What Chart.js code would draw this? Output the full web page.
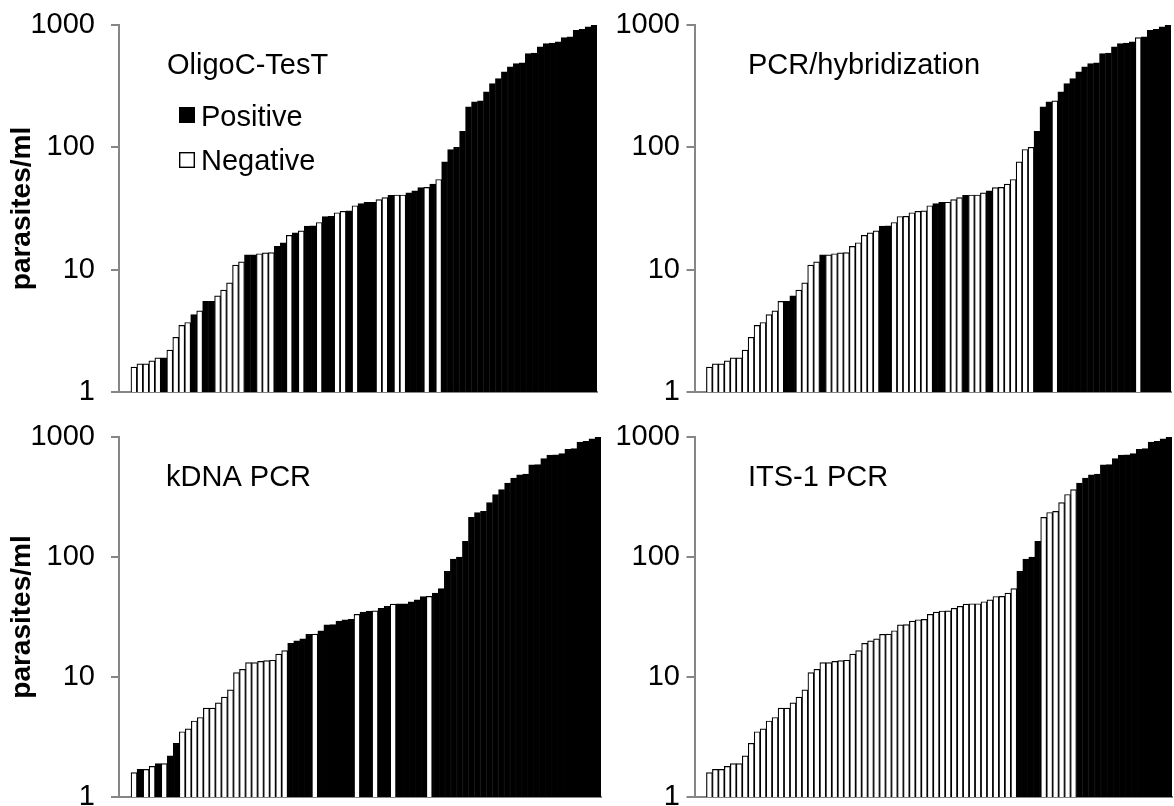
<!DOCTYPE html>
<html>
<head>
<meta charset="utf-8">
<script src="https://cdn.jsdelivr.net/npm/chart.js@4.4.1/dist/chart.umd.min.js"></script>
<style>
  html, body { margin: 0; padding: 0; background: #fff; overflow: hidden; }
  #wrap { position: relative; width: 1174px; height: 806px; overflow: hidden; }
  #wrap canvas { position: absolute; left: 0; top: 0; }
</style>
</head>
<body>
<div id="wrap">
  <canvas id="oligo" width="1174" height="840"></canvas>
  <canvas id="pcrh" width="1174" height="840"></canvas>
  <canvas id="kdna" width="1174" height="840"></canvas>
  <canvas id="its1" width="1174" height="840"></canvas>
</div>
<script>
// samples sorted by parasite load (first two below detection on the log axis)
const samples = [1, 2, 3, 4, 5, 6, 7, 8, 9, 10, 11, 12, 13, 14, 15, 16, 17, 18, 19, 20,
  21, 22, 23, 24, 25, 26, 27, 28, 29, 30, 31, 32, 33, 34, 35, 36, 37, 38, 39, 40,
  41, 42, 43, 44, 45, 46, 47, 48, 49, 50, 51, 52, 53, 54, 55, 56, 57, 58, 59, 60,
  61, 62, 63, 64, 65, 66, 67, 68, 69, 70, 71, 72, 73, 74, 75, 76, 77, 78, 79, 80];

const parasites = [null, null, 1.6, 1.7, 1.7, 1.8, 1.9, 1.9, 2.2, 2.8,
  3.5, 3.7, 4.3, 4.6, 5.5, 5.5, 6.1, 6.8, 7.8, 10.9,
  11.6, 13.2, 13.2, 13.5, 13.7, 13.8, 15.5, 16.6, 19.1, 20,
  20.8, 22.7, 22.8, 24.3, 27.2, 27.3, 29.2, 30, 30.2, 33.3,
  34.7, 35.5, 35.6, 37.4, 38.8, 40.5, 40.8, 40.8, 42.4, 44,
  46.9, 47, 50, 54.6, 76, 96, 100, 135, 214, 235,
  240, 284, 332, 365, 414, 454, 484, 490, 585, 590,
  662, 706, 710, 728, 790, 800, 906, 920, 965, 1000];

// 1 = positive, 0 = negative
const oligocTest = [0, 0, 0, 0, 0, 0, 0, 1, 0, 0,
  0, 0, 1, 0, 1, 1, 0, 0, 0, 0,
  0, 1, 1, 0, 0, 0, 1, 1, 0, 1,
  0, 1, 1, 0, 1, 1, 0, 0, 1, 0,
  1, 1, 1, 0, 0, 1, 0, 0, 1, 1,
  1, 0, 1, 0, 1, 1, 1, 1, 1, 1,
  1, 1, 1, 1, 1, 1, 1, 1, 1, 1,
  1, 1, 1, 1, 1, 1, 1, 1, 1, 1];

const pcrHybridization = [0, 0, 0, 0, 0, 0, 0, 0, 0, 0,
  0, 0, 0, 0, 0, 1, 1, 0, 0, 0,
  0, 1, 0, 0, 0, 0, 0, 0, 0, 0,
  0, 1, 1, 0, 0, 0, 0, 0, 0, 0,
  1, 1, 0, 0, 0, 1, 0, 0, 0, 1,
  0, 0, 0, 0, 0, 0, 0, 1, 1, 1,
  0, 1, 1, 1, 1, 1, 1, 1, 1, 1,
  1, 1, 1, 1, 0, 1, 1, 1, 1, 1];

const kdnaPcr = [0, 0, 0, 1, 0, 0, 1, 0, 1, 1,
  0, 0, 0, 0, 0, 0, 0, 0, 0, 0,
  0, 0, 0, 0, 0, 0, 0, 0, 1, 1,
  1, 1, 0, 1, 1, 1, 1, 1, 1, 0,
  1, 1, 0, 1, 1, 0, 1, 1, 1, 1,
  1, 0, 1, 1, 1, 1, 1, 1, 1, 1,
  1, 1, 1, 1, 1, 1, 1, 1, 1, 1,
  1, 1, 1, 1, 1, 1, 1, 1, 1, 1];

const its1Pcr = [0, 0, 0, 0, 0, 0, 0, 0, 0, 0,
  0, 0, 0, 0, 0, 0, 0, 0, 0, 0,
  0, 0, 0, 0, 0, 0, 0, 0, 0, 0,
  0, 0, 0, 0, 0, 0, 0, 0, 0, 0,
  0, 0, 0, 0, 0, 0, 0, 0, 0, 0,
  0, 0, 0, 0, 1, 1, 1, 1, 0, 0,
  0, 0, 0, 0, 1, 1, 1, 1, 1, 1,
  1, 1, 1, 1, 1, 1, 1, 1, 1, 1];

const yTicks = [1, 10, 100, 1000];
const legendLabels = ['Positive', 'Negative'];

const FONT = "'Liberation Sans', Arial, sans-serif";
const GREY = '#868686';
const H = 840;

const panelText = {
  id: 'panelText',
  afterDraw(chart, args, opts) {
    const ctx = chart.ctx;
    ctx.save();
    ctx.fillStyle = '#000';
    ctx.font = '29px ' + FONT;
    ctx.textBaseline = 'alphabetic';
    ctx.fillText(opts.title, opts.titleX, opts.titleY);
    if (opts.legend) {
      // filled / open markers, then the labels
      ctx.fillRect(179, 107, 16, 16);
      ctx.fillStyle = '#fff';
      ctx.fillRect(179, 152, 16, 16);
      ctx.strokeStyle = '#000';
      ctx.lineWidth = 1.4;
      ctx.strokeRect(179.7, 152.7, 14.6, 14.6);
      ctx.fillStyle = '#000';
      ctx.fillText(legendLabels[0], 201, 126);
      ctx.fillText(legendLabels[1], 201, 170);
    }
    ctx.restore();
  }
};

function makePanel(id, title, status, box) {
  new Chart(document.getElementById(id), {
    type: 'bar',
    data: {
      labels: samples,
      datasets: [{
        data: parasites,
        backgroundColor: status.map(s => s ? '#000' : '#fff'),
        borderColor: '#000',
        borderWidth: 1.2,
        borderSkipped: 'start',
        barPercentage: 1,
        categoryPercentage: 1
      }]
    },
    options: {
      responsive: false,
      animation: false,
      devicePixelRatio: 1,
      layout: { padding: { left: box.axisLeft, top: box.top, right: 1174 - box.right, bottom: H - box.bottom } },
      plugins: {
        legend: { display: false },
        tooltip: { enabled: false },
        panelText: { title: title, titleX: box.titleX, titleY: box.titleY, legend: box.legend }
      },
      scales: {
        x: {
          ticks: { display: false },
          grid: { display: false, drawTicks: false },
          border: { display: true, color: GREY, width: 2 }
        },
        y: {
          type: 'logarithmic',
          min: 1,
          max: 1000,
          afterBuildTicks: s => { s.ticks = yTicks.map(v => ({ value: v })); },
          afterFit: s => {
            s.width = box.left - box.axisLeft;
            // labels may overhang the plot edges, keep the plot where it is
            s.paddingTop = 0;
            s.paddingBottom = 0;
          },
          ticks: { color: '#000', font: { family: FONT, size: 29 }, padding: box.tickPad, callback: v => String(v) },
          grid: { drawOnChartArea: false, drawTicks: true, tickLength: 8, color: GREY, lineWidth: 2 },
          border: { display: true, color: GREY, width: 2 },
          title: {
            display: box.yTitle,
            text: 'parasites/ml',
            color: '#000',
            font: { family: FONT, size: 28, weight: 'bold' },
            padding: { top: 5, bottom: 0 }
          }
        }
      }
    },
    plugins: [panelText]
  });
}

makePanel('oligo', 'OligoC-TesT', oligocTest,
  { axisLeft: 0, left: 119, right: 597, top: 25, bottom: 392, tickPad: 16, titleX: 167, titleY: 74, legend: true, yTitle: true });
makePanel('pcrh', 'PCR/hybridization', pcrHybridization,
  { axisLeft: 600, left: 694.5, right: 1171, top: 25, bottom: 392, tickPad: 6.5, titleX: 748, titleY: 74, legend: false, yTitle: false });
makePanel('kdna', 'kDNA PCR', kdnaPcr,
  { axisLeft: 0, left: 119, right: 601, top: 437, bottom: 797, tickPad: 16, titleX: 166, titleY: 486, legend: false, yTitle: true });
makePanel('its1', 'ITS-1 PCR', its1Pcr,
  { axisLeft: 600, left: 694.5, right: 1172, top: 437, bottom: 797, tickPad: 6.5, titleX: 748, titleY: 486, legend: false, yTitle: false });
</script>
</body>
</html>
